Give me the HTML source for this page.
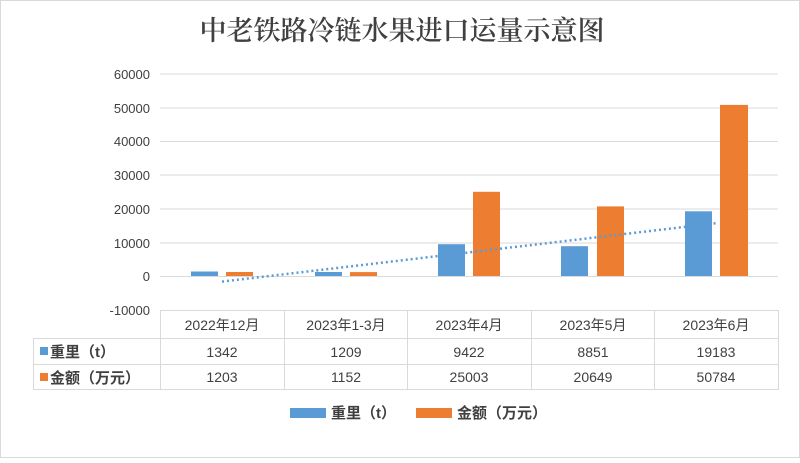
<!DOCTYPE html>
<html><head><meta charset="utf-8"><style>
body{margin:0;background:#fff;}
svg text{font-family:"Liberation Sans","Noto Sans CJK SC",sans-serif;}
</style></head><body>
<svg width="800" height="458" xmlns="http://www.w3.org/2000/svg">
<rect x="0.5" y="0.5" width="799" height="457" fill="#fff" stroke="#d9d9d9"/>
<text x="402" y="40" text-anchor="middle" font-size="27" fill="#404040" style="font-family:'Noto Serif CJK SC','Noto Sans CJK SC',serif;font-weight:600">中老铁路冷链水果进口运量示意图</text>
<g stroke="#d9d9d9" stroke-width="1">
<line x1="160" y1="74" x2="778" y2="74"/><line x1="160" y1="108" x2="778" y2="108"/>
<line x1="160" y1="141.5" x2="778" y2="141.5"/><line x1="160" y1="175" x2="778" y2="175"/>
<line x1="160" y1="209" x2="778" y2="209"/><line x1="160" y1="243" x2="778" y2="243"/>
<line x1="160" y1="276.5" x2="778" y2="276.5"/>
</g>
<g font-size="13" fill="#404040" text-anchor="end">
<text x="150" y="79">60000</text><text x="150" y="113">50000</text><text x="150" y="146">40000</text>
<text x="150" y="180">30000</text><text x="150" y="214">20000</text><text x="150" y="248">10000</text>
<text x="150" y="281">0</text><text x="150" y="315">-10000</text>
</g>
<g fill="#5b9bd5">
<rect x="191" y="271.5" width="27" height="4.5"/><rect x="315" y="272" width="27" height="4"/>
<rect x="438" y="244.2" width="27" height="31.8"/><rect x="561" y="246.2" width="27" height="29.8"/>
<rect x="685" y="211.3" width="27" height="64.7"/>
</g>
<g fill="#ed7d31">
<rect x="226" y="272" width="27" height="4"/><rect x="350" y="272.1" width="27" height="3.9"/>
<rect x="473" y="191.8" width="27" height="84.2"/><rect x="597" y="206.4" width="27" height="69.6"/>
<rect x="720" y="104.9" width="28" height="171.1"/>
</g>
<line x1="222" y1="281.6" x2="716" y2="223.2" stroke="#5b9bd5" stroke-width="2.5" stroke-dasharray="2,3"/>
<g stroke="#d9d9d9" fill="none">
<line x1="160" y1="310.5" x2="778" y2="310.5"/>
<line x1="33" y1="338.5" x2="778" y2="338.5"/><line x1="33" y1="364.5" x2="778" y2="364.5"/>
<line x1="33" y1="389.5" x2="778" y2="389.5"/>
<line x1="33.5" y1="338" x2="33.5" y2="390"/>
<line x1="160.5" y1="310" x2="160.5" y2="390"/><line x1="284.5" y1="310" x2="284.5" y2="390"/>
<line x1="407.5" y1="310" x2="407.5" y2="390"/><line x1="531.5" y1="310" x2="531.5" y2="390"/>
<line x1="654.5" y1="310" x2="654.5" y2="390"/><line x1="778.5" y1="310" x2="778.5" y2="390"/>
</g>
<g font-size="14" fill="#404040" text-anchor="middle">
<text x="222" y="330">2022年12月</text><text x="346" y="330">2023年1-3月</text>
<text x="469" y="330">2023年4月</text><text x="593" y="330">2023年5月</text><text x="716" y="330">2023年6月</text>
<text x="222" y="357">1342</text><text x="346" y="357">1209</text><text x="469" y="357">9422</text><text x="593" y="357">8851</text><text x="716" y="357">19183</text>
<text x="222" y="382">1203</text><text x="346" y="382">1152</text><text x="469" y="382">25003</text><text x="593" y="382">20649</text><text x="716" y="382">50784</text>
</g>
<rect x="40" y="347" width="8" height="8" fill="#5b9bd5"/>
<text x="50" y="357" font-size="15" fill="#404040" font-weight="bold">重里（t）</text>
<rect x="40" y="373" width="8" height="8" fill="#ed7d31"/>
<text x="50" y="383" font-size="15" fill="#404040" font-weight="bold">金额（万元）</text>
<rect x="290" y="408" width="36" height="10" fill="#5b9bd5"/>
<text x="331" y="418" font-size="15" fill="#404040" font-weight="bold">重里（t）</text>
<rect x="416" y="408" width="36" height="10" fill="#ed7d31"/>
<text x="457" y="418" font-size="15" fill="#404040" font-weight="bold">金额（万元）</text>
</svg>
</body></html>
